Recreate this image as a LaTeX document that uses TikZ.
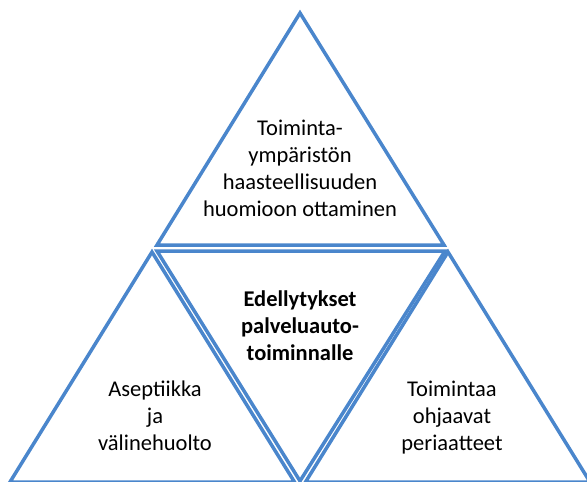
\documentclass[tikz,border=0pt]{standalone}
\usepackage{fontspec}
\setmainfont{Carlito}
\definecolor{edgeblue}{RGB}{74,134,204}

\begin{document}
\begin{tikzpicture}
	[x=1pt,y=-1pt,
	side/.style={draw=edgeblue,line width=3.5pt,line join=miter},
	label/.style={align=center,font=\fontsize{22.5}{26.8}\selectfont,inner sep=0pt,anchor=base}]
		\useasboundingbox (0,0) rectangle (587,482);
		\clip (0,0) rectangle (587,482);
		% top triangle
		\coordinate (t1) at (300,13);
		\coordinate (t2) at (157,245);
		\coordinate (t3) at (444,245);
		% middle (upside down)
		\coordinate (m1) at (157,251);
		\coordinate (m2) at (445,251);
		\coordinate (m3) at (300,481);
		% left and right
		\coordinate (l1) at (152,252);
		\coordinate (l2) at (10,482);
		\coordinate (l3) at (294.5,482);
		\coordinate (r1) at (448,252);
		\coordinate (r2) at (305.5,482);
		\coordinate (r3) at (590,482);
		\draw[side] (t1) -- (t2) -- (t3) -- cycle;
		\draw[side] (m1) -- (m2) -- (m3) -- cycle;
		\draw[side] (l1) -- (l2) -- (l3) -- cycle;
		\draw[side] (r1) -- (r2) -- (r3) -- cycle;
		% anchors at the baseline of the last line
		\node[label] (top) at (300,216)
			{Toiminta-\\ympäristön\\haasteellisuuden\\huomioon ottaminen};
		\node[label,font=\fontsize{22.5}{26.8}\selectfont\bfseries] (mid) at (300,360)
			{Edellytykset\\palveluauto-\\toiminnalle};
		\node[label] (left) at (155,450)
			{Aseptiikka\\ja\\välinehuolto};
		\node[label] (right) at (452,450)
			{Toimintaa\\ohjaavat\\periaatteet};
	\end{tikzpicture}
\end{document}
